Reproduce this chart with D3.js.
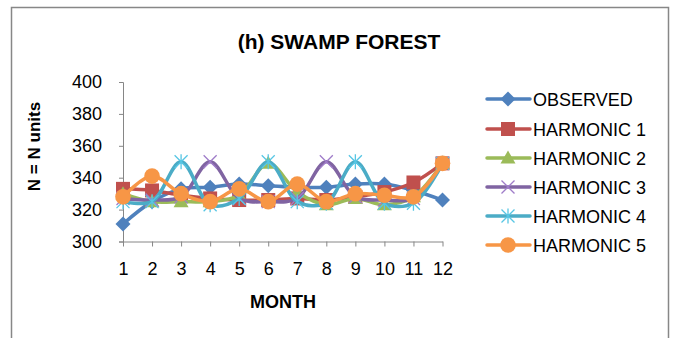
<!DOCTYPE html>
<html><head><meta charset="utf-8">
<script src="https://cdn.jsdelivr.net/npm/d3@7"></script>
<style>body{margin:0;background:#fff}svg{display:block}text{font-family:"Liberation Sans",Arial,sans-serif}</style>
</head><body><svg id="c" width="676" height="338"></svg>
<script>
const months = [1,2,3,4,5,6,7,8,9,10,11,12];
const yTicks = [300,320,340,360,380,400];
const seriesNames = ["OBSERVED","HARMONIC 1","HARMONIC 2","HARMONIC 3","HARMONIC 4","HARMONIC 5"];
const observed  = [311,325,333,334,336,335,334,334,336,336,332,326];
const harmonic1 = [333,332,329,327,326,326,327,326,328,331,337,349];
const harmonic2 = [330,325,325,325,329,349,331,323,327,323,328,349];
const harmonic3 = [327,326,328,350,327,325,327,350,328,326,327,349];
const harmonic4 = [325,325,350,323,327,350,325,324,350,324,324,349];
const harmonic5 = [328,341,330,325,333,325,336,325,330,329,328,349];
const colors = ["#4F81BD","#C0504D","#9BBB59","#8064A2","#4BACC6","#F79646"];
const markers = ["diamond","square","triangle","x","star","circle"];
const allValues = [observed,harmonic1,harmonic2,harmonic3,harmonic4,harmonic5];

const svg = d3.select("#c");
svg.append("rect").attr("x",11.5).attr("y",7.5).attr("width",657).attr("height",340)
  .attr("fill","#fff").attr("stroke","#878787").attr("stroke-width",1.5);

const x = d3.scaleLinear().domain([1,12]).range([123,442.5]);
const y = d3.scaleLinear().domain([300,400]).range([241.5,82]);

// title
svg.append("text").attr("x",339).attr("y",49).attr("text-anchor","middle")
  .attr("font-weight","bold").attr("font-size",21).attr("fill","#000").text("(h) SWAMP FOREST");

// y axis
const ya = svg.append("g").attr("transform","translate(123,0)")
  .call(d3.axisLeft(y).tickValues(yTicks).tickSize(4).tickPadding(17).tickFormat(d3.format("d")));
ya.select(".domain").attr("stroke","#868686");
ya.selectAll("line").attr("stroke","#868686");
ya.selectAll("text").attr("font-size",18).attr("fill","#000").attr("font-family","Liberation Sans, Arial, sans-serif");

// x axis
const xa = svg.append("g").attr("transform","translate(0,241.5)")
  .call(d3.axisBottom(x).tickValues(months).tickSize(5).tickSizeOuter(0).tickPadding(16).tickFormat(d3.format("d")));
xa.select(".domain").attr("stroke","#868686");
xa.selectAll("line").attr("stroke","#868686");
xa.selectAll("text").attr("font-size",18).attr("fill","#000").attr("font-family","Liberation Sans, Arial, sans-serif");

// axis titles
svg.append("text").attr("transform","translate(40,146.5) rotate(-90)").attr("text-anchor","middle")
  .attr("font-weight","bold").attr("font-size",17).attr("fill","#000").text("N = N units");
svg.append("text").attr("x",283).attr("y",308).attr("text-anchor","middle")
  .attr("font-weight","bold").attr("font-size",18).attr("fill","#000").text("MONTH");

function drawMarker(g, type, cx, cy, color){
  const s = 7.5;
  if(type==="diamond"){
    g.append("path").attr("d",`M${cx},${cy-s}L${cx+s},${cy}L${cx},${cy+s}L${cx-s},${cy}Z`).attr("fill",color);
  } else if(type==="square"){
    g.append("rect").attr("x",cx-7).attr("y",cy-7).attr("width",14).attr("height",14).attr("fill",color);
  } else if(type==="triangle"){
    g.append("path").attr("d",`M${cx},${cy-7.5}L${cx+7.5},${cy+5.5}L${cx-7.5},${cy+5.5}Z`).attr("fill",color);
  } else if(type==="x"){
    const c2 = d3.color(color).brighter(0.6);
    g.append("path").attr("d",`M${cx-6.5},${cy-6.5}L${cx+6.5},${cy+6.5}M${cx-6.5},${cy+6.5}L${cx+6.5},${cy-6.5}`)
      .attr("stroke",c2).attr("stroke-width",1.3).attr("fill","none");
  } else if(type==="star"){
    const c2 = d3.color(color).brighter(0.4);
    g.append("path").attr("d",`M${cx-6.5},${cy-6.5}L${cx+6.5},${cy+6.5}M${cx-6.5},${cy+6.5}L${cx+6.5},${cy-6.5}M${cx},${cy-7.5}L${cx},${cy+7.5}`)
      .attr("stroke",c2).attr("stroke-width",1.3).attr("fill","none");
  } else if(type==="circle"){
    g.append("circle").attr("cx",cx).attr("cy",cy).attr("r",7.8).attr("fill",color);
  }
}

const line = d3.line().x((d,i)=>x(months[i])).y(d=>y(d)).curve(d3.curveCatmullRom.alpha(0.5));
const plot = svg.append("g");
allValues.forEach((vals,k)=>{
  const g = plot.append("g");
  g.append("path").attr("d",line(vals)).attr("fill","none").attr("stroke",colors[k])
    .attr("stroke-width",3.5).attr("stroke-linejoin","round").attr("stroke-linecap","round");
  vals.forEach((v,i)=>drawMarker(g, markers[k], x(months[i]), y(v), colors[k]));
});

// legend
const ly = [99,129,158,187,216,245];
seriesNames.forEach((n,k)=>{
  const g = svg.append("g");
  g.append("line").attr("x1",487).attr("x2",530).attr("y1",ly[k]).attr("y2",ly[k])
    .attr("stroke",colors[k]).attr("stroke-width",3.5).attr("stroke-linecap","round");
  drawMarker(g, markers[k], 508, ly[k], colors[k]);
  g.append("text").attr("x",533).attr("y",ly[k]+6.5).attr("font-size",18).attr("fill","#000").text(n);
});
</script></body></html>
